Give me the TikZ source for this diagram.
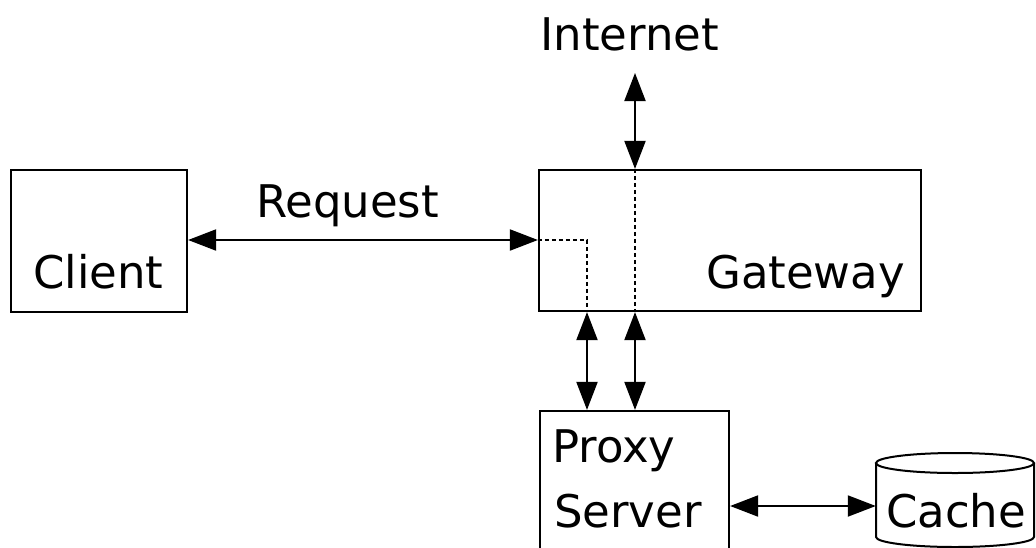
\documentclass[tikz,border=0pt]{standalone}
\usepackage{fontspec}
\setmainfont{DejaVu Sans}
\usetikzlibrary{arrows.meta}
\begin{document}
\begin{tikzpicture}[x=1pt,y=-1pt,
  box/.style={draw,line width=2.2pt,inner sep=0pt,rectangle},
  lbl/.style={inner sep=0pt,anchor=base west,font=\fontsize{45}{45}\selectfont},
  link/.style={line width=2pt,{Triangle[length=28pt,width=21pt]}-{Triangle[length=28pt,width=21pt]}},
  inner/.style={line width=1.6pt,dash pattern=on 4pt off 3pt}]
\useasboundingbox (0,0) rectangle (1036,547);
\clip (0,0) rectangle (1036,547);
% boxes
\node[box,minimum width=176pt,minimum height=142pt] (client) at (99,241) {};
\node[box,minimum width=382pt,minimum height=141pt] (gateway) at (730,240.5) {};
\node[box,minimum width=189pt,minimum height=190pt] (proxy) at (634.5,506) {};
% cache cylinder
\draw[line width=2pt,fill=white] (876,463) -- (876,537) arc[start angle=180,end angle=360,x radius=79pt,y radius=10pt] -- (1034,463);
\draw[line width=2pt] (955,463) ellipse[x radius=79pt,y radius=10pt];
\node[inner sep=0pt,minimum width=158pt,minimum height=84pt] (cache) at (955,500) {};
% labels
\node[lbl] (tclient) at (33,288) {Client};
\node[lbl] (tgate) at (706,288) {Gateway};
\node[lbl] (tproxy) at (552,462) {Proxy};
\node[lbl] (tserver) at (554,527) {Server};
\node[lbl] (tcache) at (886,527) {Cache};
\node[lbl] (tinet) at (540,50) {Internet};
\node[lbl] (treq) at (256,217) {Request};
% coordinates
\coordinate (inet) at (635,73);
\coordinate (ry) at (0,240);
\coordinate (x1) at (587,0);
\coordinate (x2) at (635,0);
\coordinate (cy) at (0,506);
% inner dotted paths
\draw[inner] (gateway.west |- ry) -- (x1 |- ry) -- (x1 |- gateway.south);
\draw[inner] (x2 |- gateway.north) -- (x2 |- gateway.south);
% connectors
\draw[link] (client.east |- ry) -- (gateway.west |- ry);
\draw[link] (inet) -- (inet |- gateway.north);
\draw[link] (x1 |- gateway.south) -- (x1 |- proxy.north);
\draw[link] (x2 |- gateway.south) -- (x2 |- proxy.north);
\draw[link] (proxy.east |- cy) -- (cache.west |- cy);
\end{tikzpicture}
\end{document}
